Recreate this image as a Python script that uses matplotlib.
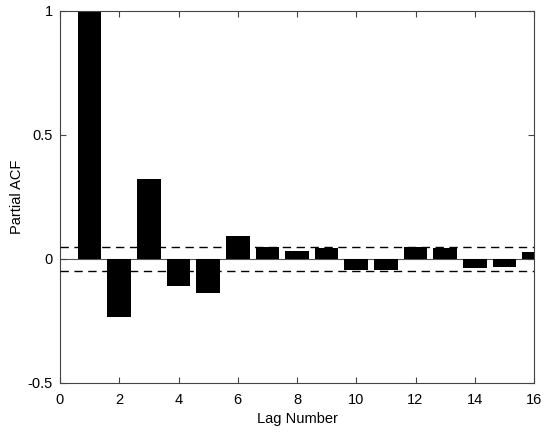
import matplotlib
matplotlib.use('Agg')
import matplotlib.pyplot as plt

plt.rcParams['font.family'] = ['Liberation Sans', 'DejaVu Sans']
plt.rcParams['font.size'] = 10

# partial autocorrelation by lag
lags = [1, 2, 3, 4, 5, 6, 7, 8, 9, 10, 11, 12, 13, 14, 15, 16]
pacf = [1.0, -0.233, 0.324, -0.108, -0.138, 0.093, 0.05, 0.034, 0.046,
        -0.044, -0.044, 0.047, 0.046, -0.035, -0.032, 0.028]
conf = 0.05

fig = plt.figure(figsize=(5.5, 4.32), dpi=100)
ax = fig.add_axes([60/550, 1 - 383/432, 474/550, 372/432])

ax.bar(lags, pacf, width=0.8, color='black', zorder=2)
ax.axhline(0, color='#555555', lw=0.8, zorder=1)
ax.axhline(conf, color='black', lw=1, ls=(0, (6, 4)), zorder=3)
ax.axhline(-conf, color='black', lw=1, ls=(0, (6, 4)), zorder=3)

ax.set_xlim(0, 16)
ax.set_ylim(-0.5, 1)
ax.set_xticks(range(0, 17, 2))
ax.set_yticks([-0.5, 0, 0.5, 1])
ax.set_yticklabels(['-0.5', '0', '0.5', '1'])
ax.tick_params(direction='in', top=True, right=True, length=4,
               color='#444444', labelsize=10.5)
ax.tick_params(axis='x', pad=7)
ax.tick_params(axis='y', pad=5)
for s in ax.spines.values():
    s.set_color('#444444')
    s.set_linewidth(0.8)

ax.set_xlabel('Lag Number', fontsize=10.5, labelpad=4)
ax.set_ylabel('Partial ACF', fontsize=10.5, labelpad=3)

fig.savefig('out.png', dpi=100)
